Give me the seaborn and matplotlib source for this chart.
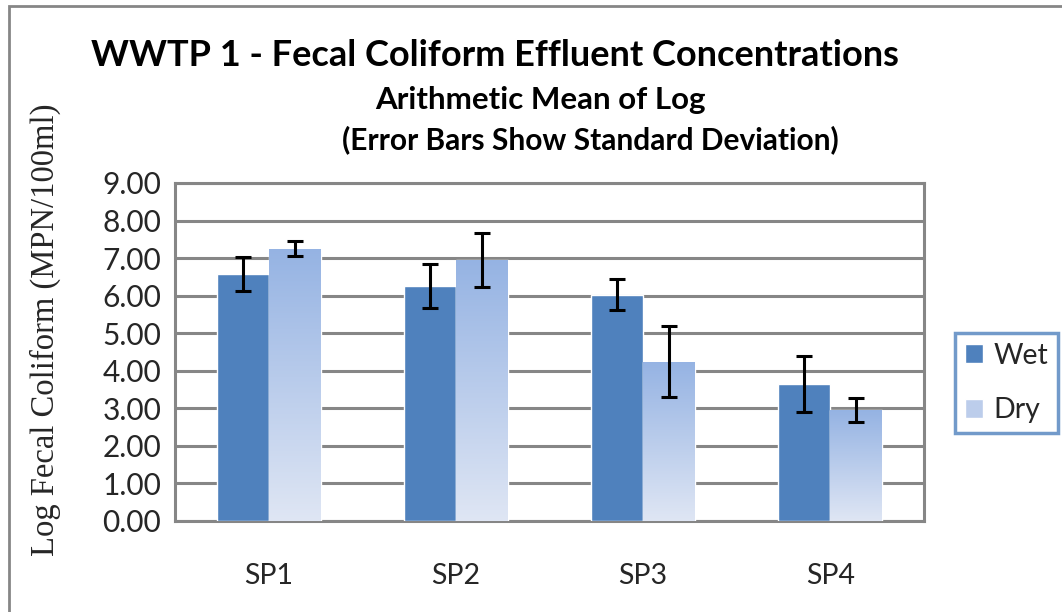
import numpy as np
import pandas as pd
import matplotlib
matplotlib.use("Agg")
import matplotlib.pyplot as plt
import seaborn as sns
from matplotlib.colors import LinearSegmentedColormap
from matplotlib.patches import Patch, Rectangle

# data
sites = ["SP1", "SP2", "SP3", "SP4"]
wet_mean = [6.58, 6.25, 6.03, 3.66]
wet_sd = [0.45, 0.59, 0.41, 0.745]
dry_mean = [7.25, 6.96, 4.24, 2.95]
dry_sd = [0.20, 0.72, 0.94, 0.32]
conditions = ["Wet", "Dry"]
y_ticks = [0, 1, 2, 3, 4, 5, 6, 7, 8, 9]

df = pd.DataFrame({
    "site": sites * 2,
    "mean": wet_mean + dry_mean,
    "sd": wet_sd + dry_sd,
    "condition": ["Wet"] * 4 + ["Dry"] * 4,
})

sns.set_style("white")
plt.rcParams["font.family"] = ["Lato", "DejaVu Sans"]

wet_col = "#4F81BD"
dry_top = "#95B3E3"
dry_bot = "#DFE6F4"
grid_col = "#868686"

fig = plt.figure(figsize=(10.62, 6.12), dpi=100)
ax = fig.add_axes([175 / 1062, 1 - 521 / 612, (924 - 175) / 1062, (521 - 183) / 612])

sns.barplot(data=df, x="site", y="mean", hue="condition", order=sites,
            hue_order=conditions, palette=[wet_col, dry_top], width=0.555,
            saturation=1, errorbar=None, legend=False, ax=ax, zorder=3)

# gradient fill on the dry bars
cmap = LinearSegmentedColormap.from_list("dry", [dry_bot, dry_top])
grad = np.linspace(0, 1, 256).reshape(-1, 1)
for bar in ax.containers[1]:
    x0, w, h = bar.get_x(), bar.get_width(), bar.get_height()
    im = ax.imshow(grad, cmap=cmap, extent=(x0, x0 + w, 0, h), origin="lower",
                   aspect="auto", zorder=3.5)
    im.set_clip_path(bar)

# error bars (standard deviation)
for cont, sd in zip(ax.containers, [wet_sd, dry_sd]):
    xs = [b.get_x() + b.get_width() / 2 for b in cont]
    ys = [b.get_height() for b in cont]
    ax.errorbar(xs, ys, yerr=sd, fmt="none", ecolor="black", elinewidth=2.2,
                capsize=5.5, capthick=2.2, zorder=5)

ax.set_xlim(-0.5, len(sites) - 0.5)
ax.set_ylim(0, 9)
ax.set_yticks(y_ticks)
ax.set_yticklabels([f"{v:.2f}" for v in y_ticks], fontsize=21.5)
ax.set_xticks(np.arange(len(sites) + 1) - 0.5)
ax.set_xticklabels([])
ax.set_xticks(range(len(sites)), minor=True)
ax.set_xticklabels(sites, minor=True, fontsize=20.5)
ax.tick_params(axis="x", which="minor", length=0, pad=30)
ax.tick_params(axis="x", which="major", length=7, width=2.2, color=grid_col, direction="out")
ax.tick_params(axis="y", length=6, width=2.2, color=grid_col, direction="out", pad=4)
ax.set_xlabel("")
ax.set_ylabel("")
ax.yaxis.grid(True, color=grid_col, linewidth=2.2, zorder=0)
ax.set_axisbelow(True)
for s in ax.spines.values():
    s.set_visible(True)
    s.set_color(grid_col)
    s.set_linewidth(2.2)

fig.text(45 / 1062, 1 - 330 / 612, "Log Fecal Coliform (MPN/100ml)", rotation=90,
         ha="center", va="center", fontsize=23.5, family="Liberation Serif")

fig.text(495 / 1062, 1 - 55 / 612, "WWTP 1 - Fecal Coliform Effluent Concentrations",
         ha="center", va="center", fontsize=26, fontweight="bold", color="black")
fig.text(540 / 1062, 1 - 100 / 612, "Arithmetic Mean of Log",
         ha="center", va="center", fontsize=22.5, fontweight="bold", color="black")
fig.text(590 / 1062, 1 - 140 / 612, "(Error Bars Show Standard Deviation)",
         ha="center", va="center", fontsize=21.5, fontweight="bold", color="black")

handles = [Patch(facecolor=wet_col, label="Wet"), Patch(facecolor="#BCCDEB", label="Dry")]
leg = fig.legend(handles=handles, loc="center left", borderaxespad=0,
                 bbox_to_anchor=(955 / 1062, 1 - 383 / 612), fontsize=20.5,
                 frameon=True, fancybox=False, handlelength=0.65, handleheight=0.65,
                 handletextpad=0.35, labelspacing=1.0, borderpad=0.35)
leg.get_frame().set_edgecolor(wet_col)
leg.get_frame().set_linewidth(2.5)

# outer chart border
fig.patches.append(Rectangle((9 / 1062, -0.1), 1.2, 1 - 6 / 612 + 0.1,
                             transform=fig.transFigure, fill=False,
                             edgecolor=grid_col, linewidth=2, zorder=0))

fig.savefig("out.png", dpi=100)
